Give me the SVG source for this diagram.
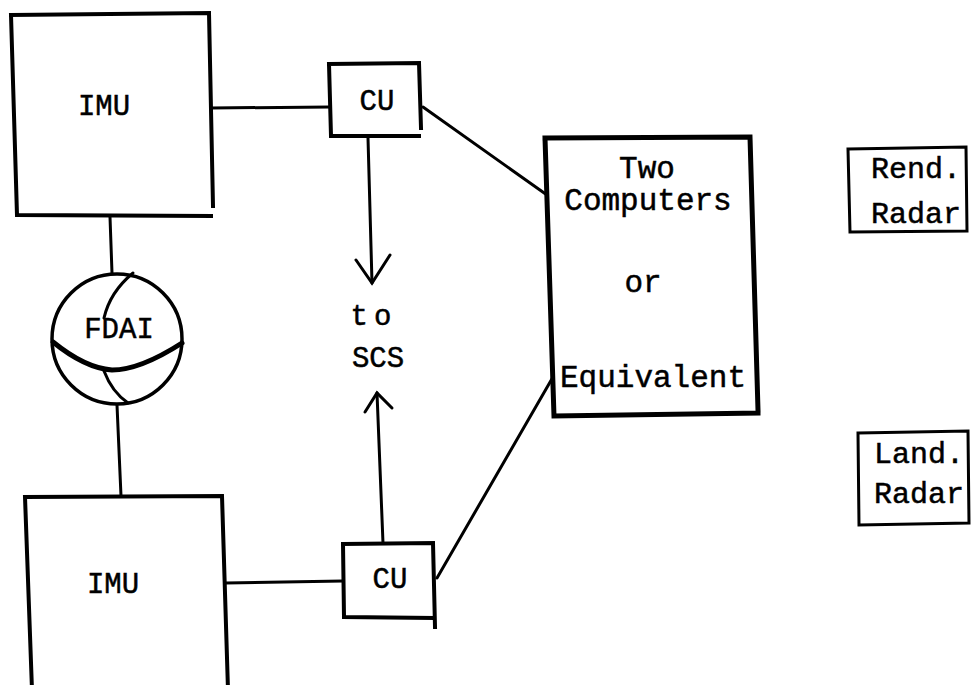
<svg xmlns="http://www.w3.org/2000/svg" width="972" height="685" viewBox="0 0 972 685">
<style>
.box{fill:none;stroke:#000;stroke-width:4;stroke-linecap:square;stroke-linejoin:miter}
.ln{fill:none;stroke:#000;stroke-width:3;stroke-linecap:round}
.t{font-family:"Liberation Mono","Courier New",monospace;font-size:29px;fill:#000;stroke:#000;stroke-width:0.5;text-anchor:middle}
.tl{font-family:"Liberation Mono","Courier New",monospace;font-size:30px;fill:#000;stroke:#000;stroke-width:0.5}
</style>
<rect width="972" height="685" fill="#fff"/>
<g id="connectors">
<path class="ln" d="M211 108 L330 107"/>
<path class="ln" d="M423 107 L547 195"/>
<path class="ln" d="M368 138 L372 283"/>
<path class="ln" d="M356 260 L372 283 L390 255"/>
<path class="ln" d="M383 543 L377 393"/>
<path class="ln" d="M365 412 L377 393 L392 408"/>
<path class="ln" d="M226 583 L343 581"/>
<path class="ln" d="M437 578 L553 377"/>
<path class="ln" d="M110 217 L112 273"/>
<path class="ln" d="M117 405 L121 496"/>
</g>
<g id="imu_top">
<path class="box" d="M11 15 L209 13 L213 206 M11 15 L17 215 L211 216"/>
<text class="t" x="104" y="115">IMU</text>
</g>
<g id="fdai">
<circle cx="117" cy="339" r="65" fill="none" stroke="#000" stroke-width="3.5"/>
<path class="ln" d="M133 273 Q110 292 104 318"/>
<path d="M53 342 Q85 368 112 370 Q140 370 182 343" fill="none" stroke="#000" stroke-width="5" stroke-linecap="round"/>
<path class="ln" d="M104 371 Q112 392 128 403"/>
<text class="t" x="119" y="338">FDAI</text>
</g>
<g id="imu_bottom">
<path class="box" d="M32 690 L25 497 L222 496 L228 690"/>
<text class="t" x="113" y="593">IMU</text>
</g>
<g id="cu_top">
<path class="box" d="M329 64 L419 63 L421 128 M329 64 L331 136 L419 136"/>
<text class="t" x="377" y="110">CU</text>
</g>
<g id="cu_bottom">
<path class="box" d="M343 544 L433 543 L435 627 M343 544 L344 617 L433 618"/>
<text class="t" x="390" y="588">CU</text>
</g>
<g id="computers">
<path class="box" d="M545 138 L750 137 L758 410 M545 138 L554 416 L758 413" style="stroke-width:5"/>
<text class="t" x="647" y="178" style="font-size:31px">Two</text>
<text class="t" x="648" y="210" style="font-size:31px">Computers</text>
<text class="t" x="643" y="292" style="font-size:31px">or</text>
<text class="t" x="653" y="387" style="font-size:31px">Equivalent</text>
</g>
<g id="scs_label">
<text class="t" x="374" y="325" style="letter-spacing:6px">to</text>
<text class="t" x="378" y="367">SCS</text>
</g>
<g id="rend_radar">
<path class="box" d="M848 149 L966 147 L967 231 L850 232 Z" style="stroke-width:3"/>
<text class="tl" x="871" y="178">Rend.</text>
<text class="tl" x="871" y="223">Radar</text>
</g>
<g id="land_radar">
<path class="box" d="M858 433 L968 431 L969 523 L859 525 Z" style="stroke-width:3"/>
<text class="tl" x="874" y="463">Land.</text>
<text class="tl" x="874" y="503">Radar</text>
</g>
</svg>
